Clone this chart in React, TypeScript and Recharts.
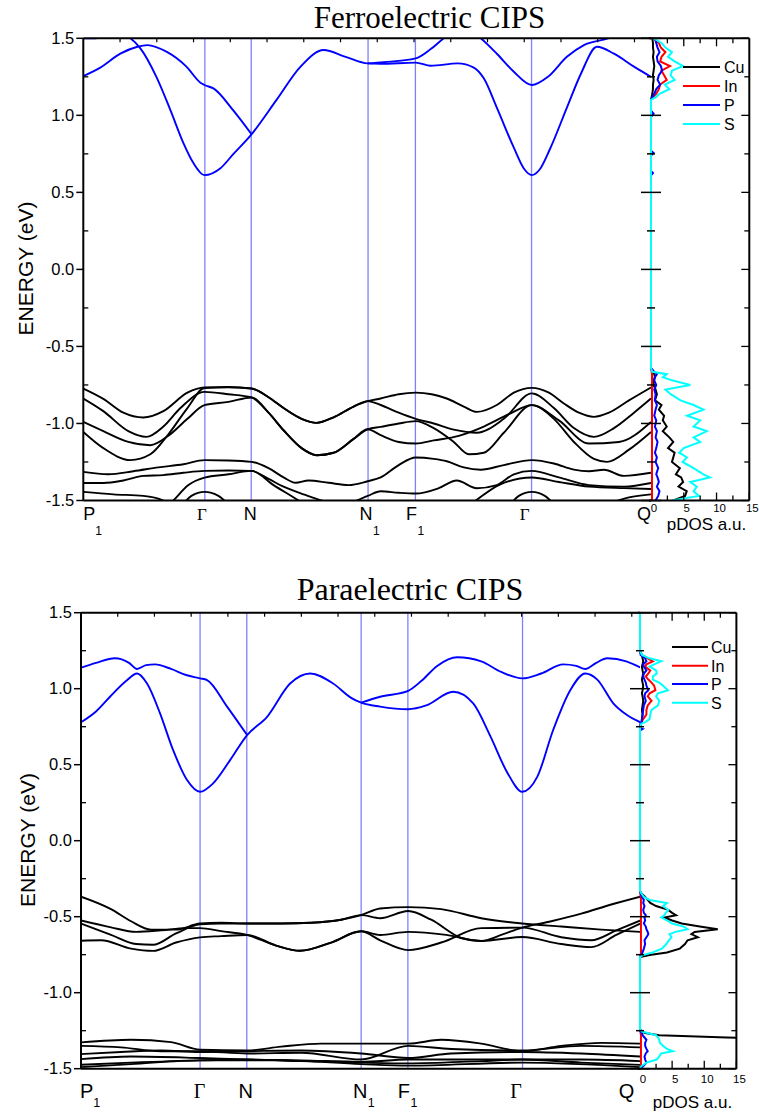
import React from 'react';
import { LineChart, Line, XAxis, YAxis, ReferenceLine } from 'recharts';

const SANS = '"Liberation Sans", Arial, Helvetica, sans-serif';
const SERIF = '"Liberation Serif", "Times New Roman", serif';
const BLUE = '#0000ff';
const BLACK = '#000000';
const SYM = '#8080ff';

// ---------- shared axis values ----------
const energyTicks = [-1.5, -1.25, -1, -0.75, -0.5, -0.25, 0, 0.25, 0.5, 0.75, 1, 1.25, 1.5];
const dosTicks = [0, 2.5, 5, 7.5, 10, 12.5, 15];
const dosTopTicks = [2.5, 5, 7.5, 10, 12.5];
const kTopTicks = [36.7, 73.4, 110.1, 146.8, 183.5, 220.2, 256.9, 293.6, 330.3, 367, 403.7, 440.4, 477.1, 513.8, 550.5];
const species = ['Cu', 'In', 'P', 'S'];
const speciesColors = ['#000000', '#ff0000', '#0000ff', '#00ffff'];
const kLabels = ['P_1', 'Γ', 'N', 'N_1', 'F_1', 'Γ', 'Q'];

// ---------- Ferroelectric band structure ----------
const ferroK = [0, 121.4, 167.7, 284.4, 331.7, 447.7, 567];

const fCBa = [[0,1.255],[17,1.31],[37,1.40],[54,1.445],[64,1.456],[83,1.413],[103,1.316],[117,1.212],[121,1.197],[130,1.175],[150,1.03],[168,0.877]];
const fCBb = [[0,1.5],[12,1.5],[30,1.54],[47,1.5],[57,1.435],[73,1.25],[87,1.034],[100,0.82],[110,0.69],[121,0.612],[137,0.657],[150,0.75],[168,0.877],[193,1.10],[217,1.316],[240,1.424],[262,1.38],[284,1.337],[297,1.335],[332,1.342],[347,1.322],[374,1.337],[390,1.31],[400,1.24],[413,1.05],[430,0.79],[440,0.655],[448,0.612],[456,0.65],[466,0.78],[483,1.05],[497,1.27],[513,1.445],[530,1.40],[550,1.316],[567,1.25]];
const fCBc = [[284,1.337],[300,1.345],[332,1.37],[347,1.43],[360,1.5],[379,1.58],[397,1.5],[413,1.40],[430,1.283],[448,1.197],[464,1.25],[483,1.38],[500,1.456],[524,1.5],[545,1.56],[560,1.51],[567,1.5]];

const fVa = [[0,-0.773],[20,-0.84],[40,-0.93],[60,-0.961],[80,-0.92],[104,-0.80],[121,-0.766],[145,-0.763],[168,-0.773],[185,-0.83],[200,-0.90],[218,-0.97],[233,-0.996],[250,-0.96],[270,-0.89],[284,-0.855],[297,-0.838],[315,-0.81],[332,-0.80],[348,-0.81],[363,-0.838],[380,-0.89],[393,-0.925],[413,-0.88],[430,-0.80],[448,-0.769],[465,-0.80],[480,-0.87],[495,-0.93],[510,-0.957],[525,-0.93],[545,-0.85],[567,-0.766]];
const fVb = [[0,-0.838],[20,-0.92],[45,-1.05],[63,-1.087],[80,-1.02],[97,-0.90],[121,-0.795],[145,-0.81],[168,-0.831],[185,-0.93],[200,-1.044],[218,-1.16],[233,-1.206],[250,-1.19],[270,-1.10],[284,-1.038],[297,-1.022],[315,-1.0],[332,-0.985],[350,-1.03],[370,-1.12],[385,-1.20],[400,-1.19],[420,-1.06],[448,-0.881],[470,-0.97],[490,-1.12],[510,-1.23],[523,-1.249],[545,-1.17],[567,-1.055]];
const fVc = [[0,-0.99],[20,-1.05],[45,-1.12],[67,-1.141],[85,-1.08],[104,-0.97],[121,-0.881],[145,-0.86],[168,-0.831],[185,-0.93],[200,-1.044],[218,-1.16],[233,-1.206],[250,-1.19],[270,-1.10],[284,-1.038],[297,-1.076],[315,-1.12],[332,-1.13],[350,-1.11],[375,-1.08],[400,-1.02],[425,-0.94],[448,-0.881],[475,-0.98],[505,-1.13],[535,-1.12],[567,-0.99]];
const fVd = [[0,-1.055],[20,-1.16],[47,-1.238],[67,-1.20],[85,-1.07],[104,-0.90],[121,-0.77],[145,-0.766],[168,-0.773],[185,-0.83],[200,-0.90],[218,-0.97],[233,-0.996],[250,-0.96],[270,-0.89],[284,-0.855],[297,-0.88],[315,-0.93],[332,-0.97],[350,-1.0],[370,-1.04],[393,-1.06],[420,-0.97],[448,-0.805],[470,-0.90],[490,-1.03],[510,-1.087],[530,-1.03],[550,-0.93],[567,-0.838]];
const fVe = [[0,-1.314],[25,-1.33],[50,-1.31],[75,-1.285],[100,-1.265],[121,-1.238],[145,-1.24],[168,-1.249],[185,-1.29],[200,-1.35],[212,-1.385],[225,-1.37],[245,-1.385],[265,-1.40],[284,-1.375],[297,-1.35],[315,-1.27],[332,-1.221],[350,-1.23],[363,-1.245],[380,-1.285],[397,-1.30],[420,-1.27],[448,-1.238],[470,-1.26],[490,-1.30],[505,-1.31],[520,-1.30],[540,-1.34],[567,-1.32]];
const fVf = [[0,-1.386],[20,-1.386],[40,-1.37],[60,-1.34],[80,-1.335],[100,-1.32],[121,-1.308],[145,-1.305],[168,-1.308],[185,-1.36],[200,-1.41],[220,-1.46],[245,-1.51],[262,-1.52],[284,-1.47],[297,-1.44],[315,-1.45],[332,-1.455],[355,-1.42],[373,-1.37],[393,-1.42],[413,-1.40],[430,-1.33],[448,-1.308],[475,-1.35],[505,-1.40],[540,-1.41],[567,-1.386]];
const fVg = [[0,-1.444],[30,-1.46],[60,-1.47],[80,-1.50],[100,-1.58],[200,-1.62],[330,-1.62],[480,-1.6],[520,-1.53],[545,-1.48],[567,-1.46]];
const fVh = [[60,-1.7],[90,-1.50],[105,-1.40],[121,-1.351],[145,-1.33],[168,-1.308],[190,-1.40],[215,-1.50],[250,-1.65],[300,-1.7],[360,-1.65],[392,-1.50],[415,-1.40],[448,-1.351],[475,-1.38],[505,-1.41],[540,-1.42],[567,-1.425]];
const fVi = [[95,-1.56],[108,-1.47],[121,-1.444],[135,-1.47],[150,-1.56]];
const fVj = [[422,-1.56],[435,-1.47],[448,-1.444],[461,-1.47],[475,-1.56]];

// ---------- Paraelectric band structure ----------
const paraK = [0, 119, 165.7, 280, 326.7, 441.3, 559];

const pCBa = [[0,1.138],[15,1.17],[34,1.2],[48,1.17],[56,1.13],[65,1.155],[74,1.16],[90,1.13],[105,1.09],[119,1.068],[126,1.057],[146,0.882],[166,0.695]];
const pCBb = [[0,0.779],[15,0.85],[29,0.947],[45,1.05],[56,1.10],[66,1.034],[79,0.838],[92,0.597],[106,0.399],[119,0.322],[132,0.377],[149,0.53],[166,0.695],[186,0.815],[209,1.034],[229,1.10],[252,1.034],[270,0.94],[280,0.908],[299,0.882],[327,0.865],[345,0.89],[372,0.98],[392,0.904],[409,0.69],[426,0.449],[441,0.322],[456,0.42],[472,0.73],[489,0.99],[504,1.10],[516,1.06],[532,0.904],[545,0.83],[559,0.779]];
const pCBc = [[280,0.908],[299,0.947],[327,0.986],[340,1.05],[356,1.15],[376,1.207],[400,1.18],[420,1.11],[441,1.068],[460,1.10],[482,1.16],[495,1.15],[504,1.13],[515,1.17],[526,1.2],[545,1.18],[559,1.14]];

const pVa = [[0,-0.368],[30,-0.45],[50,-0.53],[70,-0.585],[95,-0.585],[119,-0.545],[140,-0.54],[166,-0.545],[200,-0.545],[230,-0.54],[260,-0.52],[280,-0.49],[299,-0.446],[327,-0.437],[360,-0.45],[400,-0.51],[441,-0.545],[480,-0.565],[520,-0.585],[559,-0.60]];
const pVb = [[0,-0.525],[30,-0.57],[55,-0.60],[80,-0.59],[105,-0.575],[119,-0.575],[140,-0.595],[166,-0.62],[195,-0.69],[219,-0.724],[250,-0.67],[280,-0.596],[299,-0.655],[327,-0.72],[360,-0.67],[400,-0.575],[441,-0.572],[480,-0.635],[510,-0.655],[535,-0.59],[559,-0.525]];
const pVc = [[0,-0.545],[30,-0.62],[55,-0.68],[72,-0.685],[95,-0.61],[119,-0.55],[140,-0.545],[166,-0.545],[200,-0.545],[230,-0.54],[260,-0.52],[280,-0.49],[299,-0.51],[327,-0.463],[350,-0.52],[380,-0.64],[400,-0.66],[420,-0.62],[441,-0.572],[470,-0.53],[500,-0.48],[530,-0.42],[559,-0.368]];
const pVd = [[0,-0.658],[20,-0.655],[50,-0.71],[72,-0.725],[95,-0.67],[119,-0.636],[140,-0.628],[166,-0.62],[195,-0.69],[219,-0.724],[250,-0.67],[280,-0.596],[299,-0.62],[327,-0.60],[365,-0.62],[400,-0.66],[441,-0.634],[480,-0.68],[510,-0.70],[535,-0.62],[559,-0.545]];
const pVe = [[0,-1.327],[50,-1.31],[90,-1.325],[119,-1.375],[166,-1.38],[200,-1.355],[240,-1.335],[280,-1.335],[327,-1.335],[360,-1.31],[400,-1.335],[441,-1.385],[480,-1.35],[520,-1.33],[559,-1.335]];
const pVf = [[0,-1.35],[40,-1.36],[80,-1.385],[119,-1.385],[166,-1.40],[220,-1.395],[280,-1.44],[327,-1.35],[370,-1.37],[441,-1.38],[500,-1.35],[559,-1.36]];
const pVg = [[0,-1.404],[40,-1.39],[80,-1.38],[119,-1.39],[166,-1.385],[220,-1.38],[280,-1.40],[327,-1.43],[370,-1.40],[441,-1.39],[500,-1.40],[559,-1.42]];
const pVh = [[0,-1.437],[50,-1.42],[119,-1.43],[166,-1.44],[220,-1.445],[280,-1.455],[327,-1.44],[441,-1.44],[500,-1.44],[559,-1.45]];
const pVi = [[0,-1.474],[50,-1.46],[119,-1.445],[166,-1.44],[220,-1.45],[280,-1.46],[327,-1.465],[400,-1.45],[441,-1.44],[500,-1.46],[559,-1.475]];
const pVj = [[0,-1.49],[50,-1.47],[119,-1.445],[200,-1.445],[280,-1.47],[327,-1.48],[441,-1.46],[559,-1.49]];

// ---------- Ferroelectric pDOS ----------
const fDosE = [1.5,1.47,1.44,1.41,1.38,1.35,1.32,1.29,1.26,1.23,1.2,1.17,1.14,1.12,1.1,1.03,1.01,0.99,0.77,0.755,0.74,0.64,0.625,0.61,-0.64,-0.665,-0.68,-0.7,-0.72,-0.75,-0.78,-0.81,-0.85,-0.88,-0.91,-0.95,-0.98,-1.02,-1.05,-1.09,-1.12,-1.16,-1.19,-1.22,-1.25,-1.29,-1.33,-1.35,-1.38,-1.41,-1.44,-1.47,-1.5];
const fDosCu = [0.2,0.3,0.3,0.4,0.3,0.4,0.5,0.4,0.3,0.4,0.3,0.3,0.2,0.1,0, 0,0,0,0,0,0,0,0,0, 0,0.2,0.5,0.6,0.4,0.4,0.7,0.9,0.6,1.6,1.2,2.0,1.8,2.4,1.8,2.8,3.4,2.6,3.6,3.4,3.2,4.4,3.8,4.6,4.9,4.2,5.45,5.2,3.4];
const fDosIn = [0.3,1.2,1.5,2.2,1.6,1.4,2.9,1.6,2.0,2.4,1.4,1.2,0.8,0.4,0, 0,0,0,0,0,0,0,0,0, 0,0.1,0.15,0.15,0.15,0.15,0.15,0.15,0.15,0.15,0.15,0.15,0.15,0.15,0.15,0.15,0.15,0.15,0.15,0.15,0.15,0.15,0.15,0.15,0.15,0.15,0.15,0.15,0.15];
const fDosP = [0.6,0.8,1.0,1.3,0.9,1.0,1.5,1.7,1.2,1.0,1.4,0.8,0.5,0.2,0, 0,0.4,0,0,0.4,0,0,0.3,0, 0,0.5,0.9,0.6,0.5,0.8,0.5,0.7,0.6,0.9,0.7,0.5,0.8,0.6,0.9,0.7,1.0,0.8,0.6,0.9,0.7,1.1,0.8,1.0,1.2,0.9,1.3,1.1,0.7];
const fDosS = [0.4,1.6,2.2,3.2,2.6,3.6,4.9,3.2,3.0,3.6,2.1,2.8,1.3,0.8,0, 0,0,0,0,0,0,0,0,0, 0,0.2,2.4,1.8,3.2,6.0,2.2,3.0,4.5,6.5,8.0,5.5,7.5,6.5,8.5,6.5,7.5,5.0,4.3,5.5,4.8,6.5,8.0,9.0,6.0,7.0,6.5,7.3,3.2];

// ---------- Paraelectric pDOS ----------
const pDosE = [1.5,1.25,1.222,1.2,1.18,1.16,1.145,1.12,1.1,1.08,1.06,1.04,1.02,0.99,0.97,0.95,0.92,0.89,0.86,0.83,0.8,0.78,0.77,0.74, 0.735,0.725,0.0,-0.33, -0.346,-0.37,-0.39,-0.41,-0.43,-0.455,-0.475,-0.49,-0.505,-0.525,-0.545,-0.565,-0.583,-0.6,-0.615,-0.635,-0.655,-0.68,-0.71,-0.735,-0.752,-0.765, -1.24,-1.256,-1.265,-1.28,-1.295,-1.31,-1.33,-1.35,-1.37,-1.385,-1.4,-1.42,-1.44,-1.46,-1.48,-1.49,-1.5];
const pDosCu = [0,0,0.3,0.4,0.5,0.4,0.3,0.4,0.5,0.4,0.3,0.4,0.5,0.4,0.3,0.4,0.5,0.4,0.3,0.4,0.3,0.3,0.2,0, 0,0,0,0, 0.2,0.8,1.2,1.6,2.5,4.4,5.0,5.6,3.8,5.0,6.5,9.3,12.1,8.5,8.0,9.0,7.4,7.0,6.2,4.2,1.5,0, 0,0.3,0.8,3.0,13.5,25,28,29,30,30,30,30,30,30,30,30,30];
const pDosIn = [0,0,0.2,1.2,2.0,1.0,0.8,1.6,1.3,0.9,1.3,1.8,2.2,2.4,1.5,1.2,1.8,1.2,1.0,1.0,0.5,0.2,0.1,0, 0,0,0,0, 0.05,0.1,0.15,0.15,0.15,0.15,0.15,0.15,0.15,0.15,0.15,0.15,0.15,0.15,0.15,0.15,0.15,0.15,0.15,0.15,0.1,0, 0,0.05,0.1,0.15,0.15,0.15,0.15,0.15,0.15,0.15,0.15,0.15,0.15,0.15,0.15,0.1,0.05];
const pDosP = [0,0,0.1,0.8,1.0,0.5,0.6,1.0,0.6,0.5,0.7,0.9,1.0,1.3,0.8,0.7,0.9,0.6,0.5,0.4,0.3,0.2,0.1,0, 0.4,0,0,0, 0.1,0.3,0.6,0.5,0.7,0.5,0.6,0.9,0.7,0.8,0.6,0.9,1.0,1.2,1.3,1.0,0.7,0.8,0.6,0.4,0.2,0, 0,0.1,0.3,0.4,0.7,1.0,0.8,0.8,1.0,1.2,0.9,0.7,0.8,1.0,0.6,0.3,0.1];
const pDosS = [0,0,0.3,1.5,3.3,2.2,1.5,2.5,2.6,2.0,2.0,3.0,3.6,4.35,2.8,2.5,3.0,2.8,1.8,1.6,1.5,0.8,0.2,0, 0,0,0,0, 0.2,0.6,1.5,4.2,3.6,4.4,4.0,3.8,3.3,4.2,5.0,6.8,7.4,5.5,4.6,4.9,4.5,4.1,3.4,2.0,0.5,0, 0,0.3,1.2,2.5,2.8,3.0,3.1,3.6,4.2,5.1,3.3,3.0,2.6,1.0,0.3,0.1,0];

// ---------- layout / style (not data) ----------
const ferroGeom = { oy: 0, plotL: 83.3, bandR: 651, dosR: 749.3, top: 38.3, bottom: 500.5, kMax: 567, labelSize: 18, gammaSize: 17, subSize: 12, labelBase: 19.5, subBase: 34, dosTickBase: 12, labelDx: [0, -3, -1, -2, -4, -7, 0] };
const paraGeom = { oy: 560, plotL: 81, bandR: 640.3, dosR: 736.7, top: 612.7, bottom: 1068.7, kMax: 559, labelSize: 20, gammaSize: 20, subSize: 12.5, labelBase: 29.5, subBase: 38.5, dosTickBase: 14.5, labelDx: [-1, -0.5, -1, -1, -4, -6.6, -6] };
const DOS_MIN = -0.3; // small left margin so the zero line is not half-clipped

const glyphW: Record<string, number> = { P: 0.667, N: 0.722, F: 0.611, Q: 0.778, 'Γ': 0.6 };

const toRows = (pts: number[][]) => pts.map(([k, e]) => ({ k, e }));
const ferroBands = [
  { d: fCBa, c: BLUE }, { d: fCBb, c: BLUE }, { d: fCBc, c: BLUE },
  { d: fVa, c: BLACK }, { d: fVb, c: BLACK }, { d: fVc, c: BLACK }, { d: fVd, c: BLACK },
  { d: fVe, c: BLACK }, { d: fVf, c: BLACK }, { d: fVg, c: BLACK }, { d: fVh, c: BLACK }, { d: fVi, c: BLACK }, { d: fVj, c: BLACK },
];
const paraBands = [
  { d: pCBa, c: BLUE }, { d: pCBb, c: BLUE }, { d: pCBc, c: BLUE },
  { d: pVa, c: BLACK }, { d: pVb, c: BLACK }, { d: pVc, c: BLACK }, { d: pVd, c: BLACK },
  { d: pVe, c: BLACK }, { d: pVf, c: BLACK }, { d: pVg, c: BLACK }, { d: pVh, c: BLACK }, { d: pVi, c: BLACK }, { d: pVj, c: BLACK },
];
const dosRows = (E: number[], cu: number[], inn: number[], p: number[], s: number[]) =>
  E.map((e, i) => ({ e, Cu: cu[i], In: inn[i], P: p[i], S: s[i] }));
const ferroDos = dosRows(fDosE, fDosCu, fDosIn, fDosP, fDosS);
const paraDos = dosRows(pDosE, pDosCu, pDosIn, pDosP, pDosS);

const isMajorE = (v: number) => Math.abs(v * 2 - Math.round(v * 2)) < 1e-6;

const EnergyTick = (props: any) => {
  const { x, y, payload } = props;
  const v = payload.value;
  if (!isMajorE(v)) return <line x1={x} x2={x + 5} y1={y} y2={y} stroke="#000" strokeWidth={1.3} />;
  return (
    <g>
      <line x1={x - 7} x2={x} y1={y} y2={y} stroke="#000" strokeWidth={1.5} />
      <text x={x - 9} y={y + 5.8} textAnchor="end" fontFamily={SANS} fontSize={16.5} fill="#000">{v.toFixed(1)}</text>
    </g>
  );
};

const TopKTick = (props: any) => {
  const { x, y } = props;
  return <line x1={x} x2={x} y1={y} y2={y + 4} stroke="#000" strokeWidth={1.2} />;
};

const makeKTick = (kPts: number[], g: any) => (props: any) => {
  const { x, y, payload } = props;
  const i = kPts.indexOf(payload.value);
  if (i < 0) return <g />;
  const [main, sub] = kLabels[i].split('_');
  const gamma = main === 'Γ';
  const fs = gamma ? g.gammaSize : g.labelSize;
  const last = kPts.length - 1;
  const anchor = i === 0 ? 'start' : i === last ? 'end' : 'middle';
  const mx = x + g.labelDx[i];
  const w = (glyphW[main] || 0.7) * fs;
  const subX = anchor === 'start' ? mx + w : mx + w / 2 + 0.5;
  return (
    <g>
      <text x={mx} y={y + g.labelBase} textAnchor={anchor} fontFamily={gamma ? SERIF : SANS} fontSize={fs} fill="#000">{main}</text>
      {sub && <text x={subX} y={y + g.subBase} textAnchor="start" fontFamily={SANS} fontSize={g.subSize} fill="#000">{sub}</text>}
    </g>
  );
};

const makeDosXTick = (g: any) => (props: any) => {
  const { x, y, payload } = props;
  const v = payload.value;
  const major = v % 5 === 0;
  return (
    <g>
      {v > 0 && <line x1={x} x2={x} y1={y} y2={y - (major ? 8 : 5)} stroke="#000" strokeWidth={1.3} />}
      {major && <text x={x + 3} y={y + g.dosTickBase} textAnchor="middle" fontFamily={SANS} fontSize={11.5} fill="#000">{v}</text>}
    </g>
  );
};
const DosTopTick = (props: any) => {
  const { x, y, payload } = props;
  const major = payload.value % 5 === 0;
  return <line x1={x} x2={x} y1={y} y2={y + (major ? 8 : 5)} stroke="#000" strokeWidth={1.3} />;
};
const makeDosLeftTick = (shift: number) => (props: any) => {
  const { x, y, payload } = props;
  const L = isMajorE(payload.value) ? 10 : 4;
  return <line x1={x + shift - L} x2={x + shift + L} y1={y} y2={y} stroke="#000" strokeWidth={1.5} />;
};
const DosRightTick = (props: any) => {
  const { x, y, payload } = props;
  const L = isMajorE(payload.value) ? 8 : 5;
  return <line x1={x - L} x2={x} y1={y} y2={y} stroke="#000" strokeWidth={1.3} />;
};

const axisLine = { stroke: '#000', strokeWidth: 2 };

function BandChart({ g, kPts, bands }: any) {
  const axisH = 60;
  const yW = 60;
  return (
    <div style={{ position: 'absolute', left: 0, top: g.oy }}>
      <LineChart width={g.bandR} height={g.bottom - g.oy + axisH} margin={{ top: g.top - g.oy - 1, right: 0, bottom: 0, left: g.plotL - yW }}>
        <XAxis xAxisId="b" dataKey="k" type="number" domain={[0, g.kMax]} allowDataOverflow ticks={kPts} interval={0}
          height={axisH} tickSize={0} tickMargin={0} tickLine={false} axisLine={axisLine} tick={makeKTick(kPts, g)} />
        <XAxis xAxisId="t" orientation="top" dataKey="k" type="number" domain={[0, g.kMax]} allowDataOverflow ticks={kTopTicks} interval={0}
          height={1} tickSize={0} tickMargin={0} tickLine={false} axisLine={axisLine} tick={TopKTick} />
        <YAxis yAxisId="l" type="number" domain={[-1.5, 1.5]} allowDataOverflow ticks={energyTicks} interval={0}
          width={yW} tickSize={0} tickMargin={0} tickLine={false} axisLine={axisLine} tick={EnergyTick} />
        {kPts.slice(1, -1).map((k: number, i: number) => (
          <ReferenceLine key={'r' + i} xAxisId="b" yAxisId="l" x={k} stroke={SYM} strokeWidth={1.3} />
        ))}
        {bands.map((b: any, i: number) => (
          <Line key={'b' + i} xAxisId="b" yAxisId="l" data={toRows(b.d)} dataKey="e" type="monotone"
            stroke={b.c} strokeWidth={1.9} dot={false} activeDot={false} isAnimationActive={false} />
        ))}
      </LineChart>
    </div>
  );
}

function DosChart({ g, rows }: any) {
  const padL = 20, padR = 10;
  const span = g.dosR - g.bandR;
  const delta = (-DOS_MIN * span) / 15; // pixels left of the zero line
  const W = span + padL + padR;
  return (
    <div style={{ position: 'absolute', left: g.bandR - padL, top: g.oy }}>
      <LineChart layout="vertical" width={W} height={g.bottom - g.oy + 40} data={rows}
        margin={{ top: g.top - g.oy - 1, right: padR - 1, bottom: 0, left: padL - 1 - delta }}>
        <XAxis xAxisId="b" type="number" domain={[DOS_MIN, 15]} allowDataOverflow ticks={dosTicks} interval={0} height={40}
          tickSize={0} tickMargin={0} tickLine={false} axisLine={axisLine} tick={makeDosXTick(g)} />
        <XAxis xAxisId="t" orientation="top" type="number" domain={[DOS_MIN, 15]} allowDataOverflow ticks={dosTopTicks} interval={0} height={1}
          tickSize={0} tickMargin={0} tickLine={false} axisLine={axisLine} tick={DosTopTick} />
        <YAxis yAxisId="l" type="number" dataKey="e" domain={[-1.5, 1.5]} reversed allowDataOverflow ticks={energyTicks} interval={0} width={1}
          tickSize={0} tickMargin={0} tickLine={false} axisLine={false} tick={makeDosLeftTick(delta)} />
        <YAxis yAxisId="r" orientation="right" type="number" dataKey="e" domain={[-1.5, 1.5]} reversed allowDataOverflow ticks={energyTicks} interval={0} width={1}
          tickSize={0} tickMargin={0} tickLine={false} axisLine={axisLine} tick={DosRightTick} />
        {species.map((s, i) => (
          <Line key={s} xAxisId="b" yAxisId="l" dataKey={s} type="linear" stroke={speciesColors[i]} strokeWidth={2}
            dot={false} activeDot={false} isAnimationActive={false} />
        ))}
      </LineChart>
    </div>
  );
}

function Legend({ x1, x2, tx, ys }: any) {
  return (
    <g>
      {species.map((s, i) => (
        <g key={s}>
          <line x1={x1} x2={x2} y1={ys[i]} y2={ys[i]} stroke={speciesColors[i]} strokeWidth={2} />
          <text x={tx} y={ys[i] + 5.8} fontFamily={SANS} fontSize={16} fill="#000">{s}</text>
        </g>
      ))}
    </g>
  );
}

export default function App() {
  return (
    <div style={{ position: 'absolute', left: 0, top: 0, width: 759, height: 1115, background: '#fff', overflow: 'hidden' }}>
      <BandChart g={ferroGeom} kPts={ferroK} bands={ferroBands} />
      <DosChart g={ferroGeom} rows={ferroDos} />
      <BandChart g={paraGeom} kPts={paraK} bands={paraBands} />
      <DosChart g={paraGeom} rows={paraDos} />
      <svg width={759} height={1115} style={{ position: 'absolute', left: 0, top: 0, pointerEvents: 'none' }}>
        <text x={429.5} y={27.8} textAnchor="middle" fontFamily={SERIF} fontSize={31} fill="#000">Ferroelectric CIPS</text>
        <text x={410} y={600} textAnchor="middle" fontFamily={SERIF} fontSize={32} fill="#000">Paraelectric CIPS</text>
        <text transform="translate(33,268.5) rotate(-90)" textAnchor="middle" fontFamily={SANS} fontSize={21} fill="#000">ENERGY (eV)</text>
        <text transform="translate(35,840) rotate(-90)" textAnchor="middle" fontFamily={SANS} fontSize={21} fill="#000">ENERGY (eV)</text>
        <text x={706.5} y={529.5} textAnchor="middle" fontFamily={SANS} fontSize={17} fill="#000">pDOS a.u.</text>
        <text x={692.5} y={1108} textAnchor="middle" fontFamily={SANS} fontSize={17} fill="#000">pDOS a.u.</text>
        <Legend x1={683} x2={720} tx={724} ys={[67, 86, 105, 124]} />
        <Legend x1={672} x2={708} tx={711} ys={[647, 665.7, 684, 702.7]} />
      </svg>
    </div>
  );
}
